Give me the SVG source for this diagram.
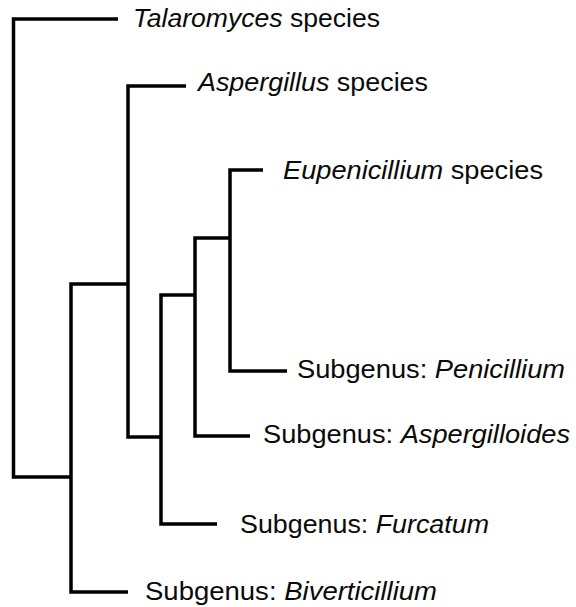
<svg xmlns="http://www.w3.org/2000/svg" width="576" height="607" viewBox="0 0 576 607">
<style>
.b{fill:none;stroke:#000;stroke-width:3.5;stroke-linejoin:miter}
text{font-family:"Liberation Sans",Arial,sans-serif;font-size:26px;fill:#0a0a0a}
.i{font-style:italic}
</style>
<rect width="576" height="607" fill="#fff"/>
<g id="connectors">
<path class="b" d="M118,19 H13.5 V477 H71"/>
<path class="b" d="M128,284 H71 V592 H128"/>
<path class="b" d="M186,86 H128 V437 H161"/>
<path class="b" d="M195,295 H161 V524 H217"/>
<path class="b" d="M230,238 H195 V436 H250"/>
<path class="b" d="M263,170 H230 V371 H287"/>
</g>
<g id="talaromyces"><text x="133" y="27" textLength="247" lengthAdjust="spacingAndGlyphs"><tspan class="i">Talaromyces</tspan> species</text></g>
<g id="aspergillus"><text x="198" y="91" textLength="230" lengthAdjust="spacingAndGlyphs"><tspan class="i">Aspergillus</tspan> species</text></g>
<g id="eupenicillium"><text x="283" y="179" textLength="260" lengthAdjust="spacingAndGlyphs"><tspan class="i">Eupenicillium</tspan> species</text></g>
<g id="penicillium"><text x="297" y="378" textLength="268" lengthAdjust="spacingAndGlyphs">Subgenus: <tspan class="i">Penicillium</tspan></text></g>
<g id="aspergilloides"><text x="263" y="443" textLength="307" lengthAdjust="spacingAndGlyphs">Subgenus: <tspan class="i">Aspergilloides</tspan></text></g>
<g id="furcatum"><text x="240" y="533" textLength="249" lengthAdjust="spacingAndGlyphs">Subgenus: <tspan class="i">Furcatum</tspan></text></g>
<g id="biverticillium"><text x="145" y="600" textLength="292" lengthAdjust="spacingAndGlyphs">Subgenus: <tspan class="i">Biverticillium</tspan></text></g>
</svg>
